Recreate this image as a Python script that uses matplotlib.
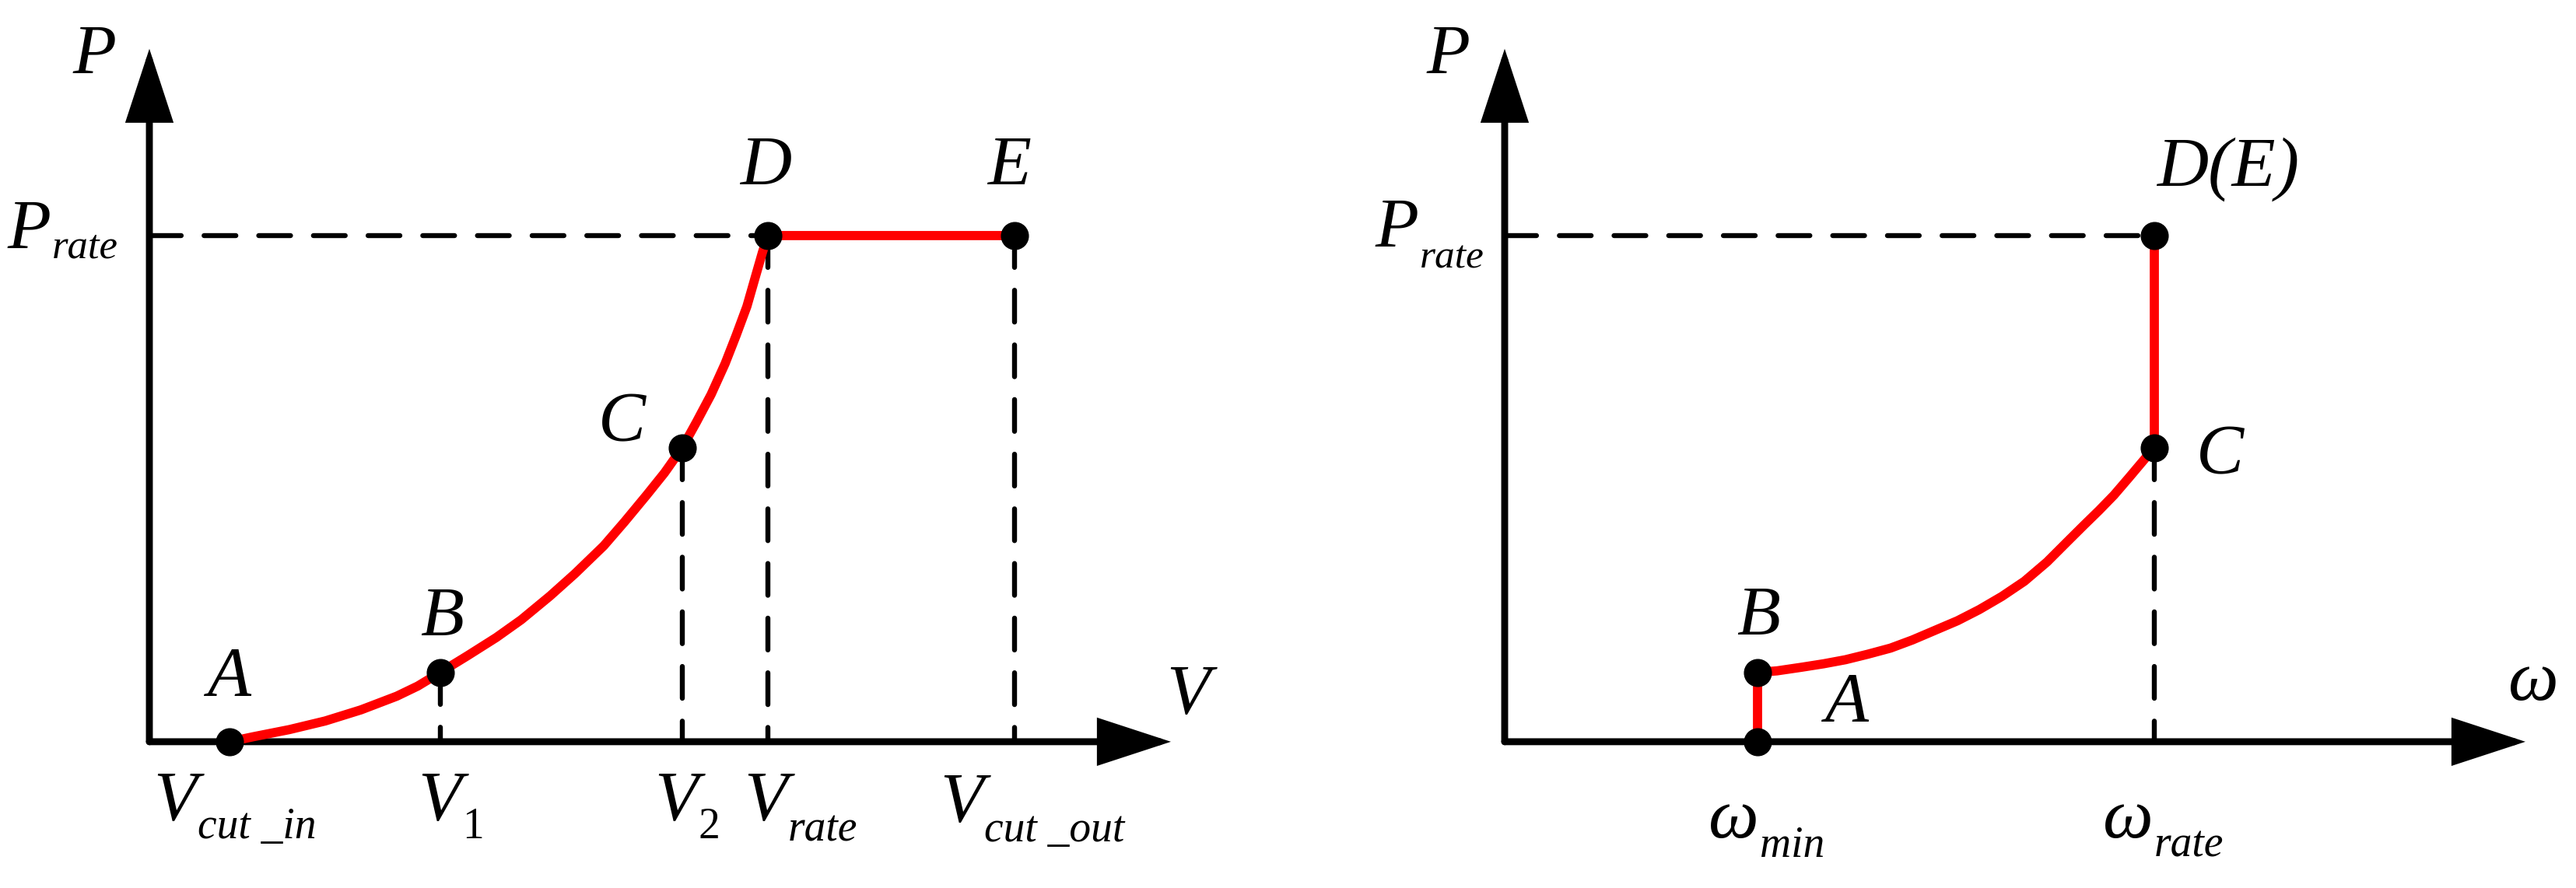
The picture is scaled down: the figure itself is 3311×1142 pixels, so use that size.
"""
Curvas de potência: P x V (velocidade do vento) e P x omega (rotação).
"""
import matplotlib

matplotlib.use("Agg")
import matplotlib.pyplot as plt  # noqa: E402
from matplotlib.transforms import offset_copy  # noqa: E402

# ---------------------------------------------------------------- dados
# Painel esquerdo: pontos característicos (V em unidades arbitrárias,
# P normalizada por P_rate).
PONTOS_ESQ = ["A", "B", "C", "D", "E"]
V_PONTOS = [1.03, 3.74, 6.85, 7.95, 11.12]
P_PONTOS_ESQ = [0.0, 0.137, 0.581, 1.0, 1.0]

CURVA_V = [1.03, 1.34, 1.80, 2.26, 2.72, 3.18, 3.45, 3.74, 4.09, 4.46,
           4.78, 5.15, 5.47, 5.84, 6.11, 6.39, 6.62, 6.85, 7.03, 7.22,
           7.40, 7.54, 7.68, 7.79, 7.88, 7.95, 11.12]
CURVA_P_ESQ = [0.0, 0.010, 0.024, 0.041, 0.063, 0.090, 0.110, 0.137,
               0.170, 0.206, 0.241, 0.288, 0.332, 0.387, 0.435, 0.487,
               0.531, 0.581, 0.631, 0.686, 0.747, 0.802, 0.860, 0.919,
               0.967, 1.0, 1.0]

# Rótulos do eixo V (letra, subscrito).
ROTULOS_V = [("V", "cut _in"), ("V", "1"), ("V", "2"), ("V", "rate"),
             ("V", "cut _out")]

# Painel direito: pontos característicos em omega.
PONTOS_DIR = ["A", "B", "C", "D(E)"]
W_PONTOS = [3.25, 3.25, 8.35, 8.35]
P_PONTOS_DIR = [0.0, 0.137, 0.581, 1.0]

# Curva vermelha A -> B -> C -> D(E).
CURVA_W = [3.25, 3.25, 3.50, 3.81, 4.10, 4.38, 4.67, 4.96, 5.24, 5.53,
           5.82, 6.10, 6.39, 6.68, 6.97, 7.25, 7.44, 7.64, 7.83, 8.02,
           8.19, 8.35, 8.35]
CURVA_P_DIR = [0.0, 0.137, 0.140, 0.147, 0.154, 0.162, 0.173, 0.185,
               0.201, 0.220, 0.239, 0.261, 0.287, 0.317, 0.355, 0.398,
               0.427, 0.457, 0.487, 0.521, 0.552, 0.581, 1.0]

ROTULOS_W = [("\u03c9", "min"), ("\u03c9", "rate")]

# Comprimento dos eixos (até a ponta da seta).
V_MAX = 13.13
W_MAX = 13.12
P_MAX = 1.369

# ---------------------------------------------------------------- estilo
FONTE = "Liberation Serif"
TAM = 66          # letras principais
TAM_SUB = 40      # subscritos
LW_EIXO = 6.4
LW_TRACO = 4.6
LW_CURVA = 8.5
TAM_PONTO = 25
TRACO = (0, (6.4, 4.6))
VERMELHO = "#ff0000"


def texto(ax, s, xy, dx, dy, size=TAM, ha="left", style="italic"):
    """Escreve s deslocado (dx, dy) pixels a partir do ponto xy (dados)."""
    fig = ax.figure
    trans = offset_copy(ax.transData, fig=fig, x=dx, y=dy, units="dots")
    return fig.text(xy[0], xy[1], s, transform=trans, ha=ha,
                    va="baseline", fontsize=size, family=FONTE,
                    style=style, color="black")


def rotulo(ax, letra, sub, xy, dx, dy, sdy, tam_sub=TAM_SUB):
    """Letra principal + subscrito logo à direita dela (sem sobrepor)."""
    principal = texto(ax, letra, xy, dx, dy)
    renderer = ax.figure.canvas.get_renderer()
    borda = principal.get_window_extent(renderer).x1
    x_ponto = ax.transData.transform(xy)[0]
    estilo = "normal" if sub.isdigit() else "italic"
    texto(ax, sub, xy, borda - x_ponto + 1, sdy, size=tam_sub, style=estilo)


def eixos(ax, x_max):
    """Desenha os dois eixos com seta a partir da origem."""
    seta = dict(arrowstyle="-|>,head_length=0.55,head_width=0.18",
                mutation_scale=100, lw=LW_EIXO, color="black",
                shrinkA=0, shrinkB=0, capstyle="round", joinstyle="miter")
    ax.annotate("", xy=(x_max, 0), xytext=(0, 0), arrowprops=seta)
    ax.annotate("", xy=(0, P_MAX), xytext=(0, 0), arrowprops=seta)


def tracejado(ax, xs, ys):
    ax.plot(xs, ys, color="black", lw=LW_TRACO, linestyle=TRACO,
            dash_capstyle="round", zorder=2)


fig = plt.figure(figsize=(33.12, 11.42), dpi=100)
ax_esq = fig.add_axes([0.0, 0.0, 0.5, 1.0])
ax_dir = fig.add_axes([0.5, 0.0, 0.5, 1.0])

for ax in (ax_esq, ax_dir):
    ax.set_ylim(-0.289, 1.4654)
    ax.axis("off")
ax_esq.set_xlim(-1.92, 14.64)
ax_dir.set_xlim(-2.78, 13.78)

# ---------------------------------------------------------------- painel P x V
ax = ax_esq
eixos(ax, V_MAX)
tracejado(ax, [0, V_PONTOS[3]], [1.0, 1.0])
for v, p in zip(V_PONTOS[1:], P_PONTOS_ESQ[1:]):
    tracejado(ax, [v, v], [p, 0])
ax.plot(CURVA_V, CURVA_P_ESQ, color=VERMELHO, lw=LW_CURVA,
        solid_capstyle="round", solid_joinstyle="round", zorder=3)
ax.plot(V_PONTOS, P_PONTOS_ESQ, "o", color="black", ms=TAM_PONTO, zorder=4)

# letras dos pontos (deslocamento em pixels)
desloc_letras = [(-1, 59), (2, 47), (-78, 8), (-3, 65), (-7, 65)]
for nome, v, p, (dx, dy) in zip(PONTOS_ESQ, V_PONTOS, P_PONTOS_ESQ,
                                desloc_letras):
    texto(ax, nome, (v, p), dx, dy, ha="center")

texto(ax, "P", (0, P_MAX), -98, -32)
texto(ax, "V", (V_MAX, 0), 22, 36, ha="center")
rotulo(ax, "P", "rate", (0, 1.0), -182, -17, -29, tam_sub=TAM_SUB - 2)

desloc_v = [(-98, -101, -124), (-29, -101, -124), (-36, -101, -124),
            (-31, -101, -128), (-96, -103, -128)]
for (letra, sub), v, (dx, dy, sdy) in zip(ROTULOS_V, V_PONTOS, desloc_v):
    rotulo(ax, letra, sub, (v, 0), dx, dy, sdy)

# ---------------------------------------------------------------- painel P x omega
ax = ax_dir
eixos(ax, W_MAX)
tracejado(ax, [0, W_PONTOS[3]], [1.0, 1.0])
tracejado(ax, [W_PONTOS[2], W_PONTOS[2]], [P_PONTOS_DIR[2], 0])
ax.plot(CURVA_W, CURVA_P_DIR, color=VERMELHO, lw=LW_CURVA,
        solid_capstyle="round", solid_joinstyle="round", zorder=3)
ax.plot(W_PONTOS, P_PONTOS_DIR, "o", color="black", ms=TAM_PONTO, zorder=4)

desloc_letras = [(114, 26, "center"), (1, 48, "center"), (84, -34, "center"),
                 (3, 63, "left")]
for nome, w, p, (dx, dy, ha) in zip(PONTOS_DIR, W_PONTOS, P_PONTOS_DIR,
                                    desloc_letras):
    texto(ax, nome, (w, p), dx, dy, ha=ha)

texto(ax, "P", (0, P_MAX), -100, -32)
texto(ax, "\u03c9", (W_MAX, 0), 10, 54, ha="center")
rotulo(ax, "P", "rate", (0, 1.0), -166, -15, -42, tam_sub=TAM_SUB - 3)

desloc_w = [(-63, -123, -148), (-66, -123, -148)]
for (letra, sub), w, (dx, dy, sdy) in zip(ROTULOS_W, W_PONTOS[1:3],
                                          desloc_w):
    rotulo(ax, letra, sub, (w, 0), dx, dy, sdy)

fig.savefig("out.png", dpi=100, facecolor="white")
plt.close(fig)
